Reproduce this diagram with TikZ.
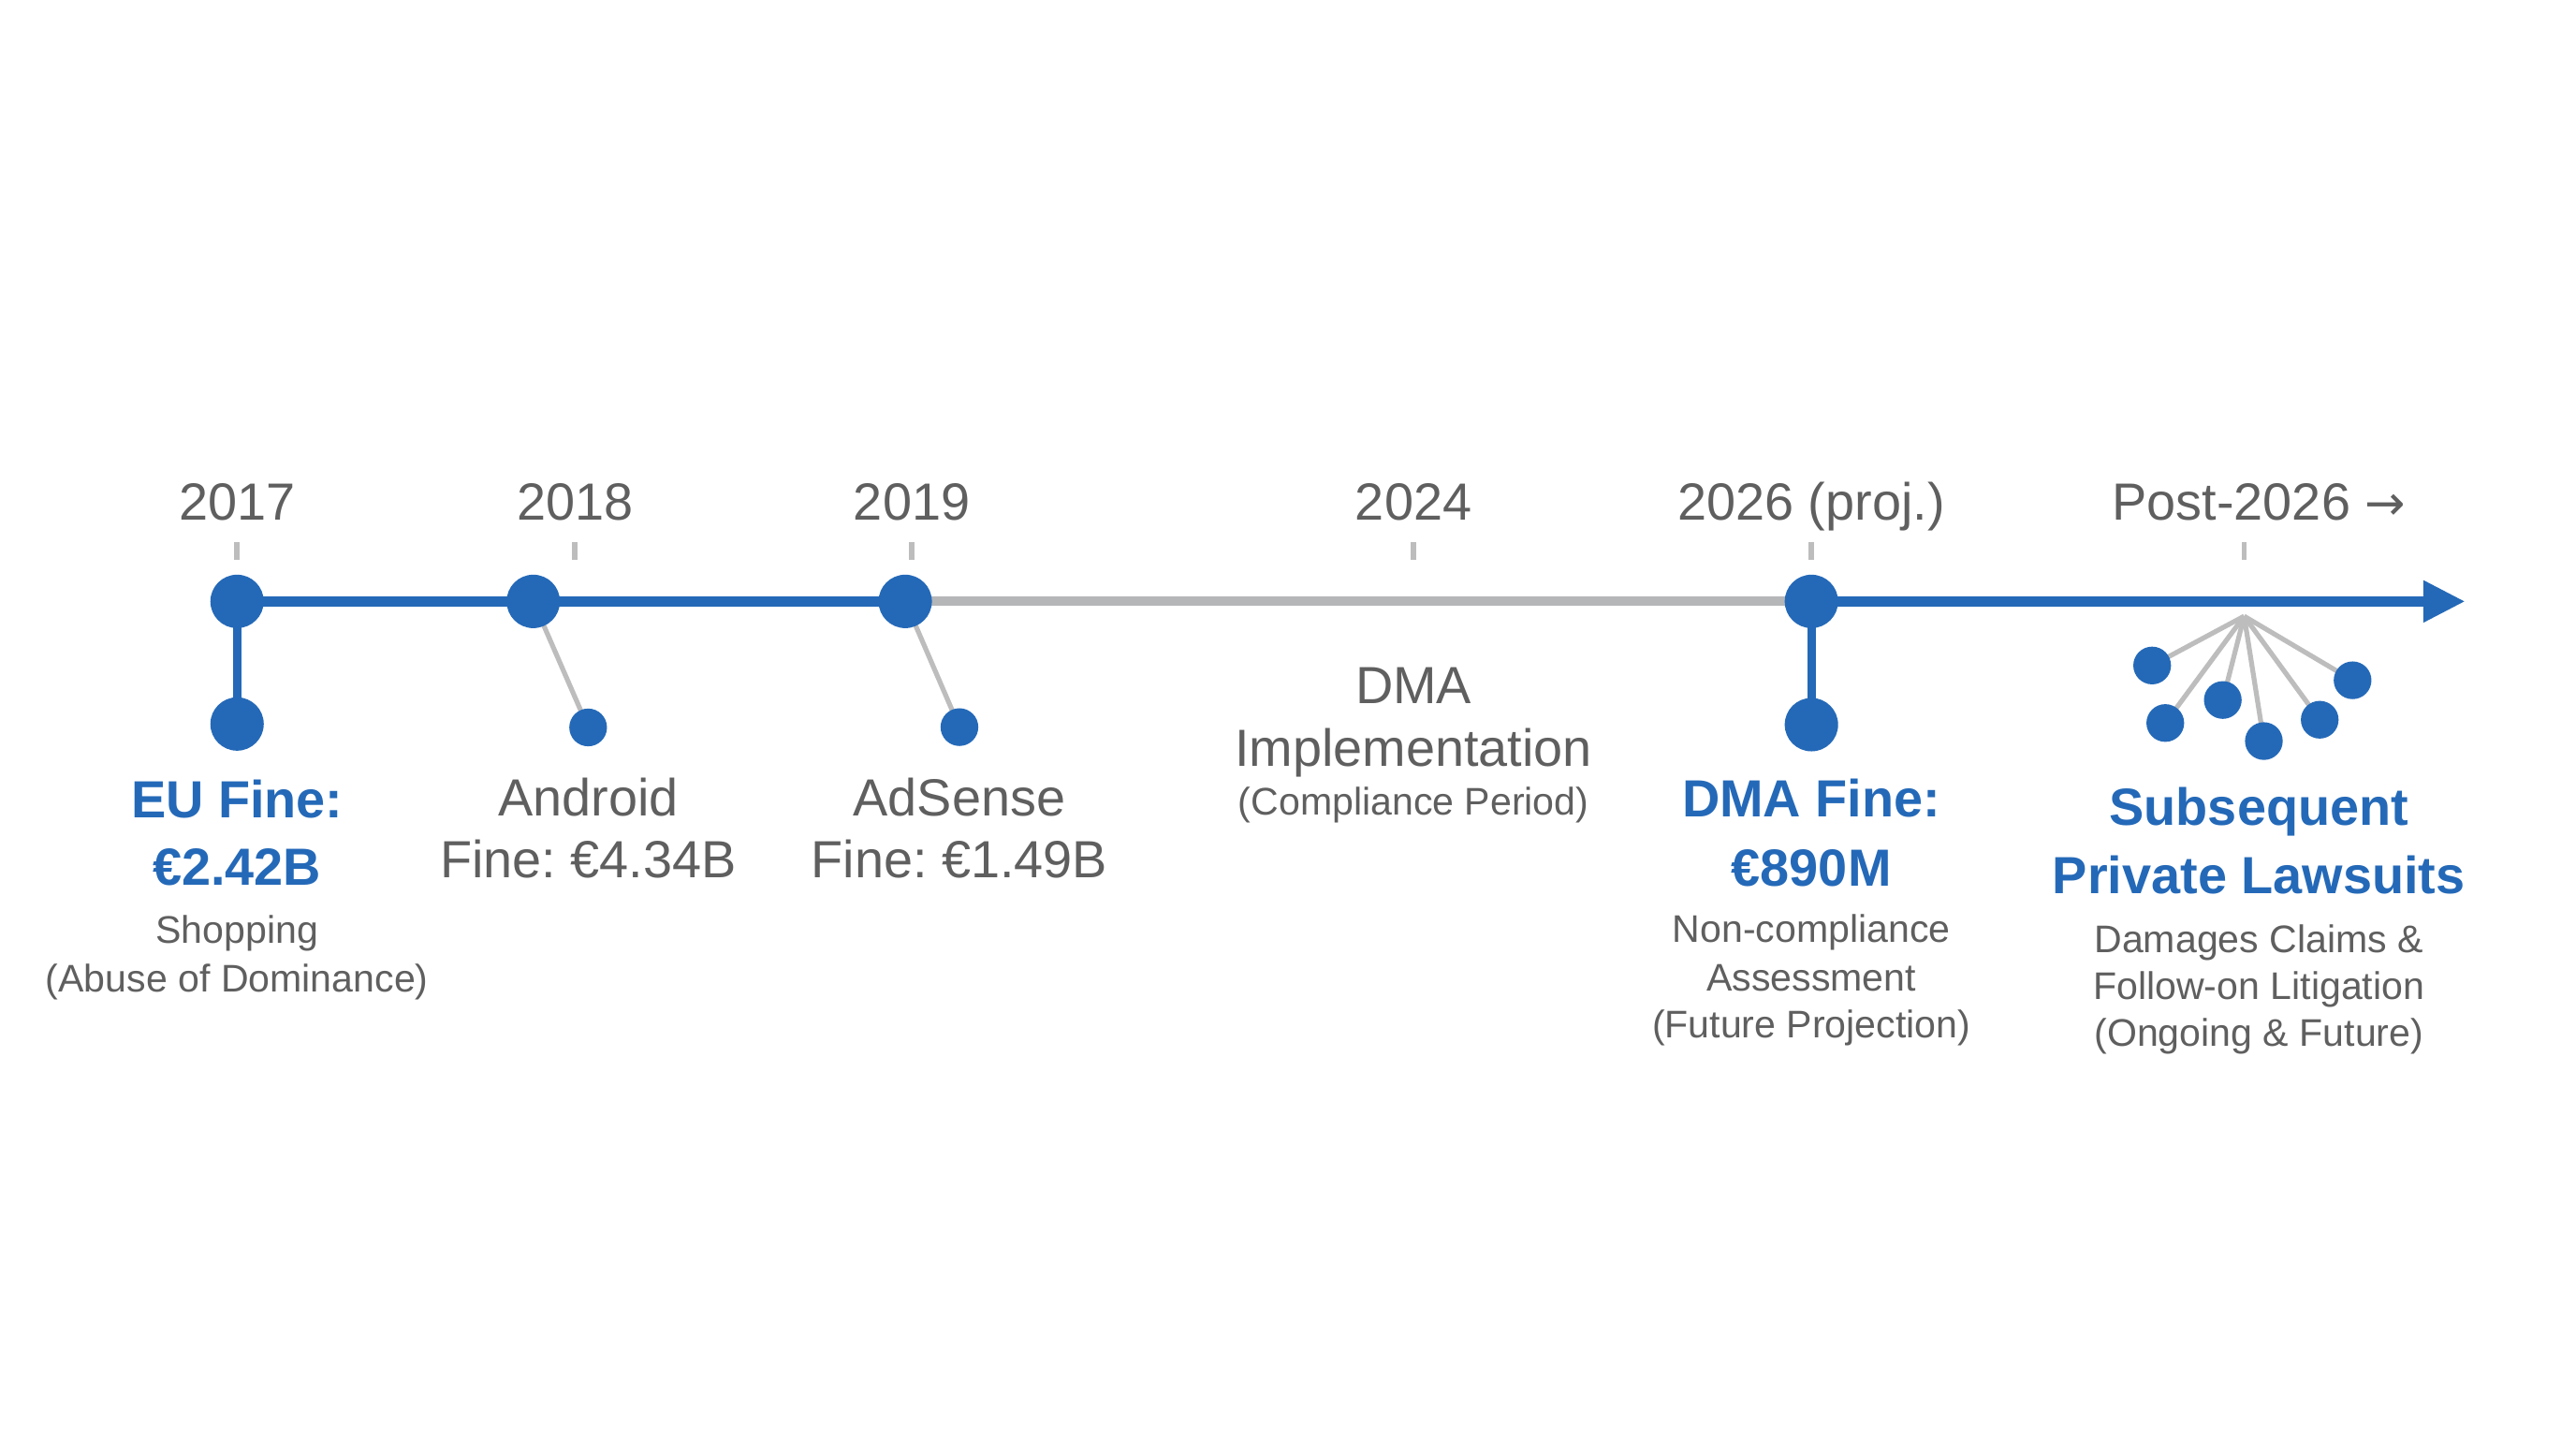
\documentclass[tikz,border=0pt]{standalone}
\usepackage{fontspec}
\setmainfont{Liberation Sans}
\newfontfamily\arrowfont{DejaVu Sans}
\frenchspacing
\definecolor{cblue}{HTML}{2469B8}
\definecolor{tgray}{HTML}{5F5F5F}
\definecolor{lgray}{HTML}{B5B6B8}
\definecolor{cgray}{HTML}{BDBDBD}
\pgfdeclarelayer{bg}
\pgfsetlayers{bg,main}
\begin{document}
\begin{tikzpicture}[x=0.44pt,y=-0.44pt,
  bigdot/.style={circle,fill=cblue,inner sep=0pt,minimum size=14.3pt},
  smalldot/.style={circle,fill=cblue,inner sep=0pt,minimum size=10.1pt},
  yeartxt/.style={anchor=base,text=tgray,inner sep=0pt,font=\fontsize{14.0pt}{16pt}\selectfont},
  headtxt/.style={anchor=base,text=cblue,inner sep=0pt,font=\bfseries\fontsize{14.0pt}{16pt}\selectfont},
  midtxt/.style={anchor=base,text=tgray,inner sep=0pt,font=\fontsize{14.0pt}{16pt}\selectfont},
  smalltxt/.style={anchor=base,text=tgray,inner sep=0pt,font=\fontsize{10.3pt}{12pt}\selectfont},
  yeartick/.style={draw=cgray,line width=1.4pt},
  bluemain/.style={draw=cblue,line width=2.8pt},
  graymain/.style={draw=lgray,line width=2.5pt},
  bluestem/.style={draw=cblue,line width=2.3pt},
  graylink/.style={draw=cgray,line width=1.3pt}
]
\useasboundingbox (0,0) rectangle (1568,875.2);

% year labels
\node[yeartxt] (y2017) at (144.3,316.6) {2017};
\node[yeartxt] (y2018) at (350,316.6) {2018};
\node[yeartxt] (y2019) at (555,316.6) {2019};
\node[yeartxt] (y2024) at (860.4,316.6) {2024};
\node[yeartxt] (y2026) at (1102.5,316.6) {2026 (proj.)};
\node[yeartxt] (ypost) at (1375,316.6) {Post-2026 {\arrowfont\fontsize{13pt}{16pt}\selectfont →}};

% ticks
\foreach \x in {144.3,350,555,860.4,1102.5,1366}
  \draw[yeartick] (\x,330) -- (\x,341);

% main dots
\node[bigdot] (n2017) at (144.3,366) {};
\node[bigdot] (n2018) at (324.6,366) {};
\node[bigdot] (n2019) at (551,366) {};
\node[bigdot] (n2026) at (1102.6,366) {};
\coordinate (arrowend) at (1477,366);

% lower dots
\node[bigdot] (d2017) at (144.3,440.6) {};
\node[smalldot] (d2018) at (358,442.7) {};
\node[smalldot] (d2019) at (584,442.5) {};
\node[bigdot] (d2026) at (1102.6,441) {};

% fan
\coordinate (fan) at (1366,375);
\node[smalldot] (f1) at (1310,405) {};
\node[smalldot] (f2) at (1318,440) {};
\node[smalldot] (f3) at (1353,426) {};
\node[smalldot] (f4) at (1378,451) {};
\node[smalldot] (f5) at (1412,438) {};
\node[smalldot] (f6) at (1432,414) {};

\begin{pgfonlayer}{bg}
  \fill[white] (0,0) rectangle (1568,875.2);
  \draw[bluemain] (n2017.center) -- (n2018.center) -- (n2019.center);
  \draw[graymain] (n2019.center) -- (n2026.center);
  \draw[bluemain] (n2026.center) -- (arrowend);
  \fill[cblue] (1475,353) -- (1500,366) -- (1475,379) -- cycle;
  \draw[bluestem] (n2017.center) -- (d2017.center);
  \draw[bluestem] (n2026.center) -- (d2026.center);
  \draw[graylink] (n2018.center) -- (d2018.center);
  \draw[graylink] (n2019.center) -- (d2019.center);
  \foreach \f in {f1,f2,f3,f4,f5,f6}
    \draw[graylink] (fan) -- (\f.center);
\end{pgfonlayer}

% labels
\node[headtxt] (eu1) at (144.3,497.5) {EU Fine:};
\node[headtxt] (eu2) at (144.3,538.8) {€2.42B};
\node[smalltxt] (eu3) at (144.3,574.2) {Shopping};
\node[smalltxt] (eu4) at (144.3,603.4) {(Abuse of Dominance)};

\node[midtxt] (an1) at (358,496.4) {Android};
\node[midtxt] (an2) at (358,534) {Fine: €4.34B};

\node[midtxt] (ad1) at (584,496.4) {AdSense};
\node[midtxt] (ad2) at (584,534) {Fine: €1.49B};

\node[midtxt] (dm1) at (860.4,428.3) {DMA};
\node[midtxt] (dm2) at (860.4,466.3) {Implementation};
\node[smalltxt] (dm3) at (860.4,495.7) {(Compliance Period)};

\node[headtxt] (df1) at (1102.6,497.1) {DMA Fine:};
\node[headtxt] (df2) at (1102.6,539.1) {€890M};
\node[smalltxt] (df3) at (1102.6,573.7) {Non-compliance};
\node[smalltxt] (df4) at (1102.6,603.3) {Assessment};
\node[smalltxt] (df5) at (1102.6,631.8) {(Future Projection)};

\node[headtxt] (pl1) at (1375,502) {Subsequent};
\node[headtxt] (pl2) at (1375,544) {Private Lawsuits};
\node[smalltxt] (pl3) at (1375,579.8) {Damages Claims \&};
\node[smalltxt] (pl4) at (1375,608.3) {Follow-on Litigation};
\node[smalltxt] (pl5) at (1375,636.7) {(Ongoing \& Future)};
\end{tikzpicture}
\end{document}
